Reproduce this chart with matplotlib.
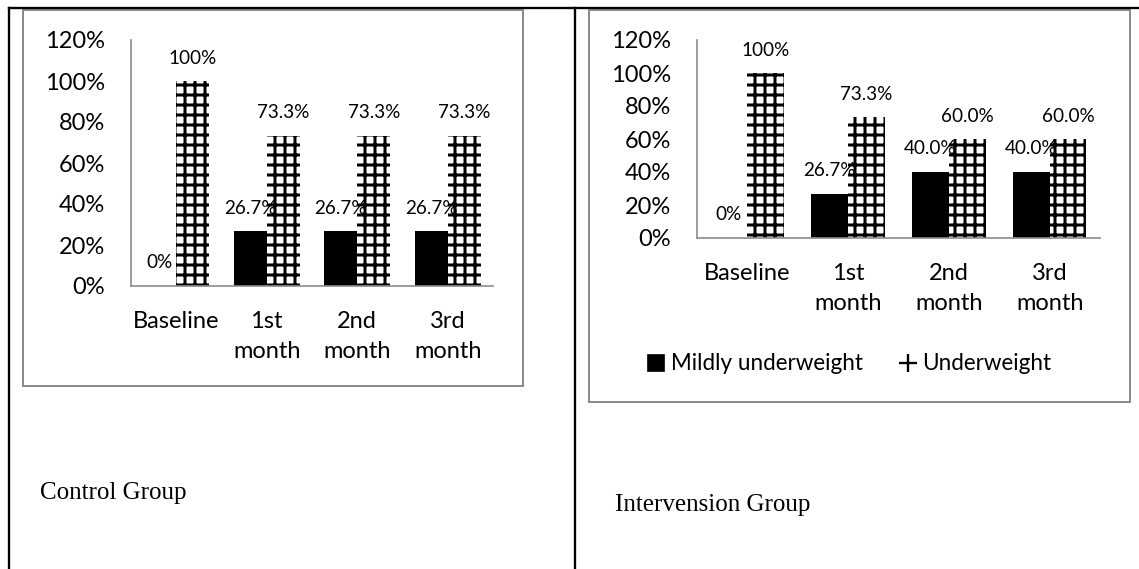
import numpy as np
import matplotlib.pyplot as plt
from matplotlib.patches import Rectangle, Patch
from matplotlib.lines import Line2D

# weight status share (%) per follow-up visit
periods = ['Baseline', '1st\nmonth', '2nd\nmonth', '3rd\nmonth']
control_mild = [0.0, 26.7, 26.7, 26.7]
control_under = [100.0, 73.3, 73.3, 73.3]
interv_mild = [0.0, 26.7, 40.0, 40.0]
interv_under = [100.0, 73.3, 60.0, 60.0]
yticks = [0, 20, 40, 60, 80, 100, 120]
series_names = ['Mildly underweight', 'Underweight']
captions = ['Control Group', 'Intervension Group']

W, H, DPI = 1139, 569, 120
GRID = '#8c8c8c'

plt.rcParams['font.family'] = ['Lato', 'DejaVu Sans']
plt.rcParams['hatch.linewidth'] = 1.8
plt.rcParams['hatch.color'] = 'black'

fig = plt.figure(figsize=(W / DPI, H / DPI), dpi=DPI)


def box(x0, y0, x1, y1):
    # pixel box -> figure fraction rect
    return [x0 / W, 1 - y1 / H, (x1 - x0) / W, (y1 - y0) / H]


def fmt(v):
    if v in (0, 100):
        return '%d%%' % v
    return '%.1f%%' % v


def bar_panel(rect, mild, under):
    ax = fig.add_axes(rect)
    x = np.arange(len(periods))
    w = 0.365
    ax.bar(x - w / 2, mild, w, color='black', linewidth=0)
    ax.bar(x + w / 2, under, w, color='white', edgecolor='black',
           hatch='++', linewidth=0)
    for xs, vals in ((x - w / 2, mild), (x + w / 2, under)):
        for xi, v in zip(xs, vals):
            ax.annotate(fmt(v), (xi, v), xytext=(0, 13.8),
                        textcoords='offset points', ha='center',
                        va='center', fontsize=11.3)
    ax.set_xlim(-0.5, len(periods) - 0.5)
    ax.set_ylim(0, 120)
    ax.set_yticks(yticks)
    ax.set_yticklabels(['%d%%' % t for t in yticks], fontsize=14.2)
    ax.set_xticks(x)
    ax.set_xticklabels(periods, fontsize=14.2, linespacing=1.5)
    ax.tick_params(length=0)
    ax.tick_params(axis='y', pad=15.5)
    ax.tick_params(axis='x', pad=15)
    for s in ('top', 'right'):
        ax.spines[s].set_visible(False)
    for s in ('left', 'bottom'):
        ax.spines[s].set_color(GRID)
        ax.spines[s].set_linewidth(1.0)
    return ax


left = bar_panel(box(131, 40, 493, 286), control_mild, control_under)
right = bar_panel(box(697, 40, 1100, 238), interv_mild, interv_under)

handles = [Patch(facecolor='black', edgecolor='black'),
           Line2D([], [], color='black', marker='+', linestyle='none',
                  markersize=11, markeredgewidth=1.4)]
fig.legend(handles, series_names, loc='center', ncol=2, frameon=False,
           fontsize=13.5, bbox_to_anchor=(850 / W, 1 - 364 / H),
           handlelength=0.7, handleheight=0.7, handletextpad=0.3,
           columnspacing=1.65)

# chart frames
for x0, y0, x1, y1 in ((23, 10, 523, 386), (589, 10, 1130, 402)):
    fig.patches.append(Rectangle((x0 / W, 1 - y1 / H), (x1 - x0) / W,
                                 (y1 - y0) / H, transform=fig.transFigure,
                                 fill=False, edgecolor=GRID, linewidth=1.2))

# table rules
fig.add_artist(Line2D([9 / W, 1], [1 - 8 / H, 1 - 8 / H], color='black',
                      linewidth=1.4, transform=fig.transFigure))
for xv in (9, 575):
    fig.add_artist(Line2D([xv / W, xv / W], [0, 1 - 8 / H], color='black',
                          linewidth=1.4, transform=fig.transFigure))

fig.text(40 / W, 1 - 493 / H, captions[0], family='Liberation Serif',
         fontsize=15, va='center', ha='left')
fig.text(615 / W, 1 - 505 / H, captions[1], family='Liberation Serif',
         fontsize=15, va='center', ha='left')

fig.savefig('out.png', dpi=DPI, facecolor='white')
